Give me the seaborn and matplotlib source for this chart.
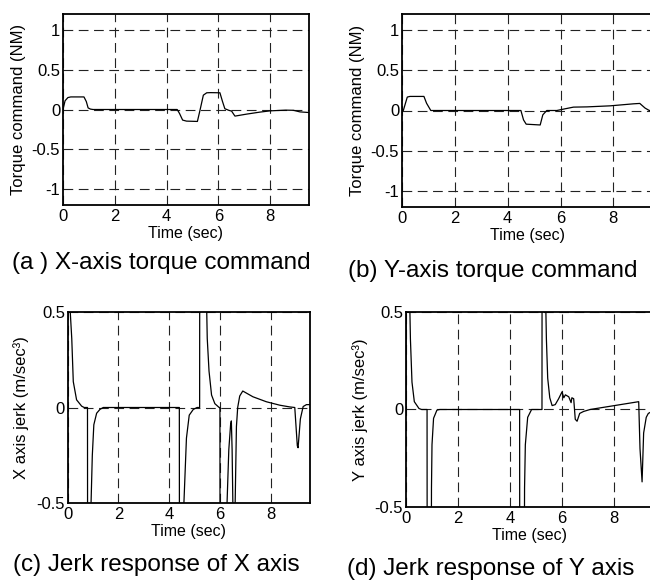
import matplotlib
matplotlib.use("Agg")
import matplotlib.pyplot as plt
import seaborn as sns
import pandas as pd

# ---- data ----
# (a) X-axis torque command (NM)
t_a = [0, 0.08, 0.19, 0.3, 0.81, 0.9, 0.97, 1.06, 1.16, 4.41, 4.5, 4.62, 4.77, 5.19,
       5.29, 5.42, 5.55, 5.7, 6.06, 6.16, 6.25, 6.4, 6.51, 6.64, 7.09, 7.6, 8.0, 8.6,
       8.9, 9.15, 9.5]
v_a = [0, 0.11, 0.15, 0.158, 0.158, 0.1, 0.02, 0.005, 0, 0, -0.05, -0.133, -0.146, -0.15,
       -0.01, 0.18, 0.21, 0.212, 0.21, 0.1, 0.01, -0.01, -0.02, -0.083, -0.058, -0.033, -0.017, -0.008,
       -0.01, -0.03, -0.038]

# (b) Y-axis torque command (NM)
t_b = [0, 0.05, 0.2, 0.3, 0.83, 0.93, 1.09, 4.5, 4.6, 4.7, 5.23, 5.33, 5.48, 5.86,
       6.11, 6.49, 7.0, 7.88, 8.76, 9.0, 9.2, 9.36, 9.6]
v_b = [0, 0.0, 0.167, 0.175, 0.175, 0.09, 0, 0, -0.117, -0.17, -0.18, -0.054, 0, 0,
       0.017, 0.042, 0.045, 0.058, 0.083, 0.088, 0.03, 0, 0]

# (c) X axis jerk (m/sec^3)
t_c = [0, 0.08, 0.1, 0.16, 0.22, 0.35, 0.55, 0.65, 0.78, 0.79, 0.89, 0.92, 0.97, 1.03,
       1.14, 1.27, 1.4, 4.40, 4.41, 4.55, 4.58, 4.68, 4.79, 4.95, 5.1, 5.2, 5.21, 5.45,
       5.48, 5.5, 5.57, 5.67, 5.8, 5.97, 6.0, 6.01, 6.25, 6.28, 6.35, 6.42, 6.45, 6.48,
       6.52, 6.56, 6.6, 6.65, 6.7, 6.78, 6.9, 7.3, 7.83, 8.36, 8.75, 8.95, 9.0, 9.05,
       9.08, 9.17, 9.28, 9.41, 9.55]
v_c = [2, 2, 0.5, 0.36, 0.135, 0.04, 0.007, 0, 0, -2, -2, -0.5, -0.25, -0.09,
       -0.03, -0.01, 0, 0, -2, -2, -0.5, -0.16, -0.04, -0.01, 0, 0, 2, 2,
       0.5, 0.36, 0.19, 0.065, 0.02, 0, 0, -2, -2, -0.5, -0.22, -0.09, -0.07, -0.22,
       -0.6, -2, -0.5, -0.1, 0.0, 0.06, 0.086, 0.056, 0.03, 0.012, 0.003, 0, -0.1, -0.2,
       -0.21, -0.06, 0.005, 0.015, 0.015]

# (d) Y axis jerk (m/sec^3)
t_d = [0, 0.01, 0.13, 0.15, 0.17, 0.23, 0.32, 0.5, 0.6, 0.81, 0.82, 0.95, 0.98, 1.0,
       1.06, 1.19, 1.3, 4.37, 4.38, 4.52, 4.56, 4.59, 4.68, 4.83, 5.23, 5.24, 5.36, 5.38,
       5.4, 5.45, 5.53, 5.62, 5.74, 5.87, 6.0, 6.07, 6.13, 6.26, 6.35, 6.38, 6.45, 6.51,
       6.58, 6.68, 6.83, 7.08, 8.95, 9.0, 9.08, 9.14, 9.24, 9.32, 9.6]
v_d = [0, 2, 2, 0.5, 0.36, 0.14, 0.04, 0.005, 0, 0, -2, -2, -0.4, -0.18,
       -0.045, -0.003, 0, 0, -2, -2, -0.4, -0.18, -0.04, 0, 0, 2, 2, 0.5,
       0.36, 0.16, 0.06, 0.02, 0.025, 0.055, 0.09, 0.06, 0.075, 0.065, 0.035, 0.06, 0.055, -0.05,
       -0.06, -0.02, -0.01, 0, 0.04, -0.2, -0.37, -0.12, -0.04, -0.02, 0]

x_ticks = [0, 2, 4, 6, 8]
torque_ticks = [-1, -0.5, 0, 0.5, 1]
torque_labels = ["-1", "-0.5", "0", "0.5", "1"]
jerk_ticks = [-0.5, 0, 0.5]
jerk_labels = ["-0.5", "0", "0.5"]

captions = ["(a ) X-axis torque command", "(b) Y-axis torque command",
            "(c) Jerk response of X axis", "(d) Jerk response of Y axis"]
ylabels = ["Torque command (NM)", "Torque command (NM)",
           "X axis jerk (m/sec³)", "Y axis jerk (m/sec³)"]

# ---- styling ----
sns.set_theme(style="white")
plt.rcParams["font.family"] = ["Liberation Sans", "DejaVu Sans"]
plt.rcParams["lines.scale_dashes"] = False

W, H = 650, 583
fig = plt.figure(figsize=(W / 100, H / 100), dpi=100)


def px_axes(left, top, right, bottom):
    return fig.add_axes([left / W, 1 - bottom / H, (right - left) / W, (bottom - top) / H])


boxes = [(63, 14, 309, 205), (402, 14, 653, 207), (67.7, 311.7, 310, 503.3), (406, 311.7, 653, 507.3)]
series = [(t_a, v_a), (t_b, v_b), (t_c, v_c), (t_d, v_d)]
ylims = [(-1.2, 1.2), (-1.2, 1.2), (-0.5, 0.5), (-0.5, 0.5)]
xlims = [(0, 9.5), (0, 9.5), (0, 9.55), (0, 9.5)]
label_pads = [4, 4, 5, 5]

for i, (box, (t, v)) in enumerate(zip(boxes, series)):
    ax = px_axes(*box)
    df = pd.DataFrame({"t": t, "v": v})
    sns.lineplot(data=df, x="t", y="v", ax=ax, color="black", linewidth=0.9,
                 estimator=None, sort=False)
    ax.set_xlim(*xlims[i])
    ax.set_ylim(*ylims[i])
    ax.set_xticks(x_ticks)
    ax.set_xticklabels([str(x) for x in x_ticks])
    if i < 2:
        ax.set_yticks(torque_ticks)
        ax.set_yticklabels(torque_labels)
    else:
        ax.set_yticks(jerk_ticks)
        ax.set_yticklabels(jerk_labels)
    ax.grid(True, color="#222222", linestyle=(0, (7, 4)), linewidth=0.8)
    ax.set_axisbelow(True)
    for s in ax.spines.values():
        s.set_color("black")
        s.set_linewidth(1.3)
    ax.tick_params(axis="both", direction="in", length=3, width=0.8, labelsize=12,
                   colors="black")
    ax.tick_params(axis="x", pad=3)
    ax.tick_params(axis="y", pad=2)
    ax.set_xlabel("Time (sec)", fontsize=11.5, labelpad=1, color="black")
    ax.set_ylabel(ylabels[i], fontsize=12, labelpad=label_pads[i], color="black")

cap_pos = [(161, 263), (493, 271), (156, 565), (491, 569)]
for (cx, cy), txt in zip(cap_pos, captions):
    fig.text(cx / W, 1 - cy / H, txt, ha="center", va="center", fontsize=17.5, color="black")

fig.savefig("out.png", dpi=100)
